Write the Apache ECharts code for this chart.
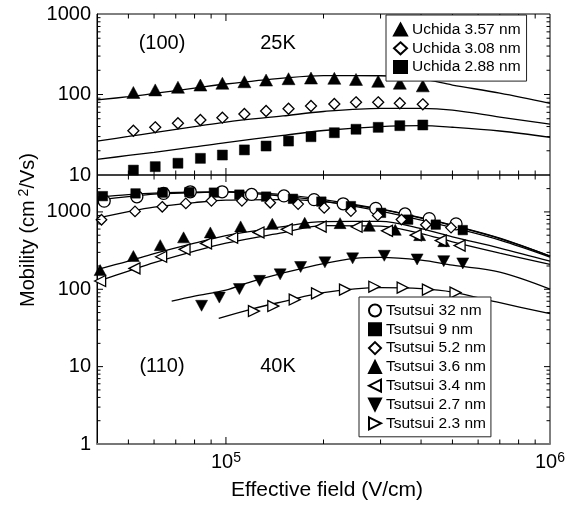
<!DOCTYPE html>
<html><head><meta charset="utf-8">
<script src="https://cdn.jsdelivr.net/npm/echarts@6/dist/echarts.min.js"></script>
<style>html,body{margin:0;padding:0;background:#fff}#c{width:577px;height:505px}</style>
</head><body><div id="c"></div>
<script>
// ---------- axis ranges / ticks ----------
const X_MIN = 4e4, X_MAX = 1e6;
const TOP_MIN = 10, TOP_MAX = 1000;
const BOT_MIN = 1, BOT_MAX = 3000;
const xMinorTicks = [5e4, 6e4, 7e4, 8e4, 9e4, 2e5, 3e5, 4e5, 5e5, 6e5, 7e5, 8e5, 9e5];
const xMajorTicks = [1e5];
const topMinorTicks = [20, 30, 40, 50, 60, 70, 80, 90, 200, 300, 400, 500, 600, 700, 800, 900];
const topMajorTicks = [100];
const botMinorTicks = [2, 3, 4, 5, 6, 7, 8, 9, 20, 30, 40, 50, 60, 70, 80, 90, 200, 300, 400, 500, 600, 700, 800, 900, 2000];
const botMajorTicks = [10, 100, 1000];

// ---------- top panel: (100) 25K, Uchida ----------
const uchidaX = [51.8e3, 60.5e3, 71.1e3, 83.4e3, 97.5e3, 114e3, 133e3, 156e3, 183e3, 216e3, 252e3, 295e3, 344e3, 405e3];
const uchida357 = [106, 114, 123, 131, 138, 144, 151, 157, 160, 159, 154, 146, 138, 128];
const uchida308 = [35.5, 39.1, 43.9, 48.2, 51.5, 57.3, 62.4, 66.6, 72.0, 76.2, 80.0, 80.0, 77.8, 75.5];
const uchida288 = [11.5, 12.7, 14.0, 16.1, 17.7, 20.5, 22.9, 26.4, 29.9, 33.5, 37.0, 39.1, 41.0, 41.8];

const fitX = [4e4, 5e4, 6e4, 8e4, 1e5, 1.5e5, 2e5, 3e5, 4e5, 5e5, 7e5, 1e6];
const fitU357 = [85.5, 94, 103, 120, 135, 160, 172, 171, 156, 131, 104, 77.8];
const fitU308 = [26.4, 30.1, 33.6, 39.8, 45.5, 54.1, 61.5, 67.3, 67.3, 64.1, 52.5, 42.8];
const fitU288 = [15.6, 17.5, 19.1, 22.3, 25.3, 31.0, 35.7, 40.0, 41.0, 39.2, 35.2, 29.4];

// ---------- bottom panel: (110) 40K, Tsutsui ----------
const ts32X = [42.1e3, 53.1e3, 64.2e3, 77.6e3, 97.3e3, 120e3, 151e3, 187e3, 230e3, 290e3, 357e3, 424e3, 513e3];
const ts32Y = [1379, 1567, 1734, 1819, 1819, 1683, 1610, 1442, 1273, 1110, 942, 819, 700];
const ts9X = [41.7e3, 52.6e3, 63.8e3, 77.1e3, 91.8e3, 110e3, 133e3, 161e3, 197e3, 243e3, 301e3, 365e3, 444e3, 538e3];
const ts9Y = [1600, 1734, 1775, 1803, 1775, 1673, 1577, 1477, 1359, 1189, 973, 795, 685, 582];
const ts52X = [41.3e3, 52.4e3, 63.6e3, 75.2e3, 90.2e3, 112e3, 137e3, 167e3, 201e3, 243e3, 294e3, 348e3, 414e3, 495e3];
const ts52Y = [791, 1015, 1164, 1288, 1390, 1390, 1311, 1262, 1127, 1024, 901, 796, 681, 627];
const ts36X = [40.9e3, 51.8e3, 62.7e3, 74.0e3, 89.5e3, 111e3, 139e3, 175e3, 225e3, 277e3, 333e3, 396e3, 470e3];
const ts36Y = [177, 269, 372, 469, 543, 650, 702, 723, 716, 661, 587, 501, 419];
const ts34X = [40.9e3, 52.2e3, 63.1e3, 74.5e3, 86.8e3, 104.5e3, 126e3, 154e3, 196e3, 253e3, 314e3, 385e3, 460e3, 526e3];
const ts34Y = [128, 186, 263, 328, 392, 463, 543, 596, 646, 642, 569, 501, 426, 367];
const ts27X = [84.1e3, 95.4e3, 110e3, 127e3, 147e3, 170e3, 202e3, 246e3, 308e3, 389e3, 470e3, 538e3];
const ts27Y = [61.2, 78.1, 100.6, 128.5, 156, 194, 223, 251, 271, 243, 231, 216];
const ts23X = [122e3, 140e3, 163e3, 191e3, 233e3, 287e3, 351e3, 420e3, 511e3];
const ts23Y = [52.3, 60.7, 73.6, 88.5, 99.1, 108, 105, 99.1, 90.6];

const fitT32 = [1421, 1577, 1698, 1775, 1829, 1673, 1442, 1087, 832, 665, 452, 269];
const fitT9  = [1553, 1673, 1750, 1803, 1803, 1600, 1379, 1024, 783, 627, 432, 261];
const fitT52 = [832, 1009, 1153, 1319, 1421, 1442, 1359, 1087, 844, 675, 459, 269];
const fitT36 = [180, 231, 289, 395, 494, 646, 749, 754, 608, 477, 341, 231];
const fitT34 = [126, 172, 221, 312, 395, 540, 665, 656, 525, 411, 294, 210];
const fitT27X = [68e3, 8e4, 1e5, 1.2e5, 1.5e5, 2e5, 2.5e5, 3e5, 4e5, 5e5, 7e5, 1e6];
const fitT27 = [70.4, 81.7, 97.7, 126, 162, 215, 251, 258, 238, 205, 167, 100.6];
const fitT23X = [95e3, 1.2e5, 1.5e5, 2e5, 3e5, 4e5, 5e5, 7e5, 1e6];
const fitT23 = [42.1, 55.5, 69.3, 90.6, 105, 102, 92, 67, 48.5];

// ---------- helpers ----------
const FONT = '"Liberation Sans", Arial, Helvetica, sans-serif';
const zip = (xs, ys) => xs.map((x, i) => [x, ys[i]]);
const isPow10 = v => { const l = Math.log10(v); return Math.abs(l - Math.round(l)) < 1e-6; };

const ICON_LEFT = 'path://M10,0L0,5L10,10Z';
const ICON_DOWN = 'path://M0,0L10,0L5,10Z';
const ICON_RIGHT = 'path://M0,0L10,5L0,10Z';

function fitLine(gi, xs, ys) {
  return { type: 'line', xAxisIndex: gi, yAxisIndex: gi, data: zip(xs, ys), symbol: 'none',
    smooth: 0.35, silent: true, lineStyle: { color: '#000', width: 1.3 }, z: 2 };
}
function pts(gi, name, xs, ys, symbol, size, filled, rotate) {
  return { type: 'scatter', name, xAxisIndex: gi, yAxisIndex: gi, data: zip(xs, ys),
    symbol, symbolSize: size, symbolRotate: rotate || 0, silent: true,
    itemStyle: filled ? { color: '#000', borderColor: '#000', borderWidth: 0.5, opacity: 1 }
                      : { color: '#fff', borderColor: '#000', borderWidth: 1.3, opacity: 1 }, z: 3 };
}
function tickSeries(gi, yMin, yMax, yMinor, yMajor) {
  const data = [];
  xMinorTicks.forEach(v => data.push([v, yMin, 0, 0]));
  xMajorTicks.forEach(v => data.push([v, yMin, 0, 1]));
  yMinor.forEach(v => data.push([X_MIN, v, 1, 0]));
  yMajor.forEach(v => data.push([X_MIN, v, 1, 1]));
  return {
    type: 'custom', xAxisIndex: gi, yAxisIndex: gi, silent: true, clip: false, z: 4, data,
    renderItem(params, api) {
      const kind = api.value(2), major = api.value(3);
      const st = { stroke: '#000', lineWidth: 1 };
      if (kind === 0) {
        const v = api.value(0);
        const a = api.coord([v, yMin]), b = api.coord([v, yMax]);
        const len = major ? 7 : 4.5;
        return { type: 'group', children: [
          { type: 'line', shape: { x1: a[0], y1: a[1], x2: a[0], y2: a[1] - len }, style: st },
          { type: 'line', shape: { x1: b[0], y1: b[1], x2: b[0], y2: b[1] + len }, style: st } ] };
      } else {
        const v = api.value(1);
        const a = api.coord([X_MIN, v]), b = api.coord([X_MAX, v]);
        const len = major ? 6 : 3.5;
        return { type: 'group', children: [
          { type: 'line', shape: { x1: a[0], y1: a[1], x2: a[0] + len, y2: a[1] }, style: st },
          { type: 'line', shape: { x1: b[0], y1: b[1], x2: b[0] - len, y2: b[1] }, style: st } ] };
      }
    }
  };
}

const xAxisCfg = (gi, showLabel) => ({
  type: 'log', logBase: 10, gridIndex: gi, min: X_MIN, max: X_MAX,
  axisLine: { show: gi === 1, onZero: false, lineStyle: { color: '#777', width: 2 } },
  axisTick: { show: false }, splitLine: { show: false }, minorTick: { show: false },
  axisLabel: { show: showLabel, margin: 7,
    formatter: v => isPow10(v) ? '{b|10}{s|' + Math.round(Math.log10(v)) + '}' : '',
    rich: { b: { fontSize: 20, fontFamily: FONT, color: '#000', lineHeight: 22 },
            s: { fontSize: 14, fontFamily: FONT, color: '#000', verticalAlign: 'top', lineHeight: 14 } } }
});
const yAxisCfg = (gi, mn, mx) => ({
  type: 'log', logBase: 10, gridIndex: gi, min: mn, max: mx,
  axisLine: { show: true, onZero: false, lineStyle: { color: '#000', width: 1 } },
  axisTick: { show: false }, splitLine: { show: false }, minorTick: { show: false },
  axisLabel: { fontSize: 20, fontFamily: FONT, color: '#000', margin: 6,
    formatter: v => isPow10(v) ? String(Math.round(v)) : '' }
});

const legendText = { fontSize: 15.5, fontFamily: FONT, color: '#000', lineHeight: 14 };

const option = {
  animation: false,
  backgroundColor: '#fff',
  grid: [
    { left: 97, top: 14, width: 453, height: 161, show: true, borderColor: '#000', borderWidth: 1, outerBoundsMode: 'none', containLabel: false },
    { left: 97, top: 175, width: 453, height: 269, show: true, borderColor: '#000', borderWidth: 1, outerBoundsMode: 'none', containLabel: false }
  ],
  xAxis: [xAxisCfg(0, false), xAxisCfg(1, true)],
  yAxis: [yAxisCfg(0, TOP_MIN, TOP_MAX), yAxisCfg(1, BOT_MIN, BOT_MAX)],
  legend: [
    { data: ['Uchida 3.57 nm', 'Uchida 3.08 nm', 'Uchida 2.88 nm'], orient: 'vertical',
      left: 386, top: 15, padding: [6.5, 6, 6, 7], itemGap: 2.8, itemWidth: 13, itemHeight: 12,
      textStyle: legendText, borderColor: '#222', borderWidth: 1, backgroundColor: '#fff',
      selectedMode: false, z: 10 },
    { data: ['Tsutsui 32 nm', 'Tsutsui 9 nm', 'Tsutsui 5.2 nm', 'Tsutsui 3.6 nm',
             { name: 'Tsutsui 3.4 nm', icon: ICON_LEFT },
             { name: 'Tsutsui 2.7 nm', icon: ICON_DOWN },
             { name: 'Tsutsui 2.3 nm', icon: ICON_RIGHT }],
      orient: 'vertical', left: 359, top: 297, padding: [5.5, 5, 5.5, 9], itemGap: 2.8, itemWidth: 12, itemHeight: 12,
      textStyle: legendText, borderColor: '#222', borderWidth: 1, backgroundColor: '#fff',
      selectedMode: false, z: 10 }
  ],
  graphic: [
    { type: 'text', x: 162, y: 43, style: { text: '(100)', font: '20px ' + FONT, fill: '#000', align: 'center', verticalAlign: 'middle', textAlign: 'center', textVerticalAlign: 'middle' } },
    { type: 'text', x: 278, y: 43, style: { text: '25K', font: '20px ' + FONT, fill: '#000', align: 'center', verticalAlign: 'middle', textAlign: 'center', textVerticalAlign: 'middle' } },
    { type: 'text', x: 162, y: 366, style: { text: '(110)', font: '20px ' + FONT, fill: '#000', align: 'center', verticalAlign: 'middle', textAlign: 'center', textVerticalAlign: 'middle' } },
    { type: 'text', x: 278, y: 366, style: { text: '40K', font: '20px ' + FONT, fill: '#000', align: 'center', verticalAlign: 'middle', textAlign: 'center', textVerticalAlign: 'middle' } },
    { type: 'text', x: 327, y: 490, style: { text: 'Effective field (V/cm)', font: '21px ' + FONT, fill: '#000', align: 'center', verticalAlign: 'middle', textAlign: 'center', textVerticalAlign: 'middle' } },
    { type: 'text', x: 28, y: 230, rotation: Math.PI / 2,
      style: { text: '{a|Mobility (cm}{s| 2}{a|/Vs)}', fill: '#000', align: 'center', verticalAlign: 'middle', textAlign: 'center', textVerticalAlign: 'middle',
        rich: { a: { fontSize: 20, fontFamily: FONT, fill: '#000', color: '#000', lineHeight: 22 },
                s: { fontSize: 14, fontFamily: FONT, fill: '#000', color: '#000', verticalAlign: 'top', lineHeight: 14 } } } }
  ],
  series: [
    fitLine(0, fitX, fitU357), fitLine(0, fitX, fitU308), fitLine(0, fitX, fitU288),
    fitLine(1, fitX, fitT32), fitLine(1, fitX, fitT9), fitLine(1, fitX, fitT52),
    fitLine(1, fitX, fitT36), fitLine(1, fitX, fitT34),
    fitLine(1, fitT27X, fitT27), fitLine(1, fitT23X, fitT23),
    pts(0, 'Uchida 3.57 nm', uchidaX, uchida357, 'triangle', [13, 12], true),
    pts(0, 'Uchida 3.08 nm', uchidaX, uchida308, 'diamond', [11, 11], false),
    pts(0, 'Uchida 2.88 nm', uchidaX, uchida288, 'rect', [10, 10], true),
    pts(1, 'Tsutsui 32 nm', ts32X, ts32Y, 'circle', 12, false),
    pts(1, 'Tsutsui 9 nm', ts9X, ts9Y, 'rect', [9.5, 9.5], true),
    pts(1, 'Tsutsui 5.2 nm', ts52X, ts52Y, 'diamond', [10.5, 10.5], false),
    pts(1, 'Tsutsui 3.6 nm', ts36X, ts36Y, 'triangle', [12, 11], true),
    pts(1, 'Tsutsui 3.4 nm', ts34X, ts34Y, 'triangle', [11, 11], false, 90),
    pts(1, 'Tsutsui 2.7 nm', ts27X, ts27Y, 'triangle', [12, 11], true, 180),
    pts(1, 'Tsutsui 2.3 nm', ts23X, ts23Y, 'triangle', [11, 11], false, -90),
    tickSeries(0, TOP_MIN, TOP_MAX, topMinorTicks, topMajorTicks),
    tickSeries(1, BOT_MIN, BOT_MAX, botMinorTicks, botMajorTicks)
  ]
};
const chart = echarts.init(document.getElementById('c'), null, { renderer: 'canvas' });
chart.setOption(option);
</script>
</body></html>
